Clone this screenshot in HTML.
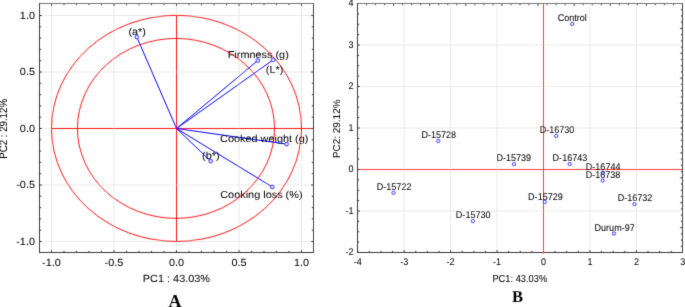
<!DOCTYPE html>
<html><head><meta charset="utf-8"><title>PCA plots</title>
<style>
html,body{margin:0;padding:0;background:#fff}
svg{display:block}
text{text-rendering:geometricPrecision}
text.s{font-family:"Liberation Sans",Arial,Helvetica,sans-serif;fill:#000;stroke:#000;stroke-width:0.04px}
text.b{font-family:"Liberation Serif","Times New Roman",Times,serif;font-weight:bold}
</style>
</head><body>
<svg width="685" height="307" viewBox="0 0 685 307">
<defs><filter id="soft" x="0" y="0" width="685" height="307" filterUnits="userSpaceOnUse"><feConvolveMatrix order="3" kernelMatrix="0.012 0.085 0.012 0.085 0.612 0.085 0.012 0.085 0.012" divisor="1" bias="0" edgeMode="duplicate" preserveAlpha="false"/></filter></defs>
<rect width="685" height="307" fill="#ffffff"/>
<g filter="url(#soft)">
<g id="plotA">
<line x1="51.50" y1="3.50" x2="51.50" y2="252.50" stroke="#e9e9e9" stroke-width="1"/>
<line x1="39.50" y1="241.50" x2="313.50" y2="241.50" stroke="#e9e9e9" stroke-width="1"/>
<line x1="114.00" y1="3.50" x2="114.00" y2="252.50" stroke="#e9e9e9" stroke-width="1"/>
<line x1="39.50" y1="185.00" x2="313.50" y2="185.00" stroke="#e9e9e9" stroke-width="1"/>
<line x1="176.50" y1="3.50" x2="176.50" y2="252.50" stroke="#e9e9e9" stroke-width="1"/>
<line x1="39.50" y1="128.50" x2="313.50" y2="128.50" stroke="#e9e9e9" stroke-width="1"/>
<line x1="239.00" y1="3.50" x2="239.00" y2="252.50" stroke="#e9e9e9" stroke-width="1"/>
<line x1="39.50" y1="72.00" x2="313.50" y2="72.00" stroke="#e9e9e9" stroke-width="1"/>
<line x1="301.50" y1="3.50" x2="301.50" y2="252.50" stroke="#e9e9e9" stroke-width="1"/>
<line x1="39.50" y1="15.50" x2="313.50" y2="15.50" stroke="#e9e9e9" stroke-width="1"/>
<ellipse cx="176.5" cy="128.4" rx="125" ry="113.05" fill="none" stroke="#ff1a1a" stroke-width="1"/>
<ellipse cx="176.0" cy="128.4" rx="98.55" ry="89.95" fill="none" stroke="#ff1a1a" stroke-width="1"/>
<line x1="51.50" y1="128.50" x2="313.50" y2="128.50" stroke="#ff1a1a" stroke-width="1"/>
<line x1="176.50" y1="15.50" x2="176.50" y2="241.50" stroke="#ff1a1a" stroke-width="1"/>
<line x1="51.50" y1="3.50" x2="51.50" y2="5.90" stroke="#3a3a3a" stroke-width="1"/>
<line x1="51.50" y1="252.50" x2="51.50" y2="250.10" stroke="#3a3a3a" stroke-width="1"/>
<line x1="39.50" y1="241.50" x2="41.90" y2="241.50" stroke="#3a3a3a" stroke-width="1"/>
<line x1="313.50" y1="241.50" x2="311.10" y2="241.50" stroke="#3a3a3a" stroke-width="1"/>
<line x1="64.00" y1="3.50" x2="64.00" y2="5.20" stroke="#3a3a3a" stroke-width="1"/>
<line x1="64.00" y1="252.50" x2="64.00" y2="250.80" stroke="#3a3a3a" stroke-width="1"/>
<line x1="39.50" y1="230.20" x2="41.20" y2="230.20" stroke="#3a3a3a" stroke-width="1"/>
<line x1="313.50" y1="230.20" x2="311.80" y2="230.20" stroke="#3a3a3a" stroke-width="1"/>
<line x1="76.50" y1="3.50" x2="76.50" y2="5.20" stroke="#3a3a3a" stroke-width="1"/>
<line x1="76.50" y1="252.50" x2="76.50" y2="250.80" stroke="#3a3a3a" stroke-width="1"/>
<line x1="39.50" y1="218.90" x2="41.20" y2="218.90" stroke="#3a3a3a" stroke-width="1"/>
<line x1="313.50" y1="218.90" x2="311.80" y2="218.90" stroke="#3a3a3a" stroke-width="1"/>
<line x1="89.00" y1="3.50" x2="89.00" y2="5.20" stroke="#3a3a3a" stroke-width="1"/>
<line x1="89.00" y1="252.50" x2="89.00" y2="250.80" stroke="#3a3a3a" stroke-width="1"/>
<line x1="39.50" y1="207.60" x2="41.20" y2="207.60" stroke="#3a3a3a" stroke-width="1"/>
<line x1="313.50" y1="207.60" x2="311.80" y2="207.60" stroke="#3a3a3a" stroke-width="1"/>
<line x1="101.50" y1="3.50" x2="101.50" y2="5.20" stroke="#3a3a3a" stroke-width="1"/>
<line x1="101.50" y1="252.50" x2="101.50" y2="250.80" stroke="#3a3a3a" stroke-width="1"/>
<line x1="39.50" y1="196.30" x2="41.20" y2="196.30" stroke="#3a3a3a" stroke-width="1"/>
<line x1="313.50" y1="196.30" x2="311.80" y2="196.30" stroke="#3a3a3a" stroke-width="1"/>
<line x1="114.00" y1="3.50" x2="114.00" y2="5.90" stroke="#3a3a3a" stroke-width="1"/>
<line x1="114.00" y1="252.50" x2="114.00" y2="250.10" stroke="#3a3a3a" stroke-width="1"/>
<line x1="39.50" y1="185.00" x2="41.90" y2="185.00" stroke="#3a3a3a" stroke-width="1"/>
<line x1="313.50" y1="185.00" x2="311.10" y2="185.00" stroke="#3a3a3a" stroke-width="1"/>
<line x1="126.50" y1="3.50" x2="126.50" y2="5.20" stroke="#3a3a3a" stroke-width="1"/>
<line x1="126.50" y1="252.50" x2="126.50" y2="250.80" stroke="#3a3a3a" stroke-width="1"/>
<line x1="39.50" y1="173.70" x2="41.20" y2="173.70" stroke="#3a3a3a" stroke-width="1"/>
<line x1="313.50" y1="173.70" x2="311.80" y2="173.70" stroke="#3a3a3a" stroke-width="1"/>
<line x1="139.00" y1="3.50" x2="139.00" y2="5.20" stroke="#3a3a3a" stroke-width="1"/>
<line x1="139.00" y1="252.50" x2="139.00" y2="250.80" stroke="#3a3a3a" stroke-width="1"/>
<line x1="39.50" y1="162.40" x2="41.20" y2="162.40" stroke="#3a3a3a" stroke-width="1"/>
<line x1="313.50" y1="162.40" x2="311.80" y2="162.40" stroke="#3a3a3a" stroke-width="1"/>
<line x1="151.50" y1="3.50" x2="151.50" y2="5.20" stroke="#3a3a3a" stroke-width="1"/>
<line x1="151.50" y1="252.50" x2="151.50" y2="250.80" stroke="#3a3a3a" stroke-width="1"/>
<line x1="39.50" y1="151.10" x2="41.20" y2="151.10" stroke="#3a3a3a" stroke-width="1"/>
<line x1="313.50" y1="151.10" x2="311.80" y2="151.10" stroke="#3a3a3a" stroke-width="1"/>
<line x1="164.00" y1="3.50" x2="164.00" y2="5.20" stroke="#3a3a3a" stroke-width="1"/>
<line x1="164.00" y1="252.50" x2="164.00" y2="250.80" stroke="#3a3a3a" stroke-width="1"/>
<line x1="39.50" y1="139.80" x2="41.20" y2="139.80" stroke="#3a3a3a" stroke-width="1"/>
<line x1="313.50" y1="139.80" x2="311.80" y2="139.80" stroke="#3a3a3a" stroke-width="1"/>
<line x1="176.50" y1="3.50" x2="176.50" y2="5.90" stroke="#3a3a3a" stroke-width="1"/>
<line x1="176.50" y1="252.50" x2="176.50" y2="250.10" stroke="#3a3a3a" stroke-width="1"/>
<line x1="39.50" y1="128.50" x2="41.90" y2="128.50" stroke="#3a3a3a" stroke-width="1"/>
<line x1="313.50" y1="128.50" x2="311.10" y2="128.50" stroke="#3a3a3a" stroke-width="1"/>
<line x1="189.00" y1="3.50" x2="189.00" y2="5.20" stroke="#3a3a3a" stroke-width="1"/>
<line x1="189.00" y1="252.50" x2="189.00" y2="250.80" stroke="#3a3a3a" stroke-width="1"/>
<line x1="39.50" y1="117.20" x2="41.20" y2="117.20" stroke="#3a3a3a" stroke-width="1"/>
<line x1="313.50" y1="117.20" x2="311.80" y2="117.20" stroke="#3a3a3a" stroke-width="1"/>
<line x1="201.50" y1="3.50" x2="201.50" y2="5.20" stroke="#3a3a3a" stroke-width="1"/>
<line x1="201.50" y1="252.50" x2="201.50" y2="250.80" stroke="#3a3a3a" stroke-width="1"/>
<line x1="39.50" y1="105.90" x2="41.20" y2="105.90" stroke="#3a3a3a" stroke-width="1"/>
<line x1="313.50" y1="105.90" x2="311.80" y2="105.90" stroke="#3a3a3a" stroke-width="1"/>
<line x1="214.00" y1="3.50" x2="214.00" y2="5.20" stroke="#3a3a3a" stroke-width="1"/>
<line x1="214.00" y1="252.50" x2="214.00" y2="250.80" stroke="#3a3a3a" stroke-width="1"/>
<line x1="39.50" y1="94.60" x2="41.20" y2="94.60" stroke="#3a3a3a" stroke-width="1"/>
<line x1="313.50" y1="94.60" x2="311.80" y2="94.60" stroke="#3a3a3a" stroke-width="1"/>
<line x1="226.50" y1="3.50" x2="226.50" y2="5.20" stroke="#3a3a3a" stroke-width="1"/>
<line x1="226.50" y1="252.50" x2="226.50" y2="250.80" stroke="#3a3a3a" stroke-width="1"/>
<line x1="39.50" y1="83.30" x2="41.20" y2="83.30" stroke="#3a3a3a" stroke-width="1"/>
<line x1="313.50" y1="83.30" x2="311.80" y2="83.30" stroke="#3a3a3a" stroke-width="1"/>
<line x1="239.00" y1="3.50" x2="239.00" y2="5.90" stroke="#3a3a3a" stroke-width="1"/>
<line x1="239.00" y1="252.50" x2="239.00" y2="250.10" stroke="#3a3a3a" stroke-width="1"/>
<line x1="39.50" y1="72.00" x2="41.90" y2="72.00" stroke="#3a3a3a" stroke-width="1"/>
<line x1="313.50" y1="72.00" x2="311.10" y2="72.00" stroke="#3a3a3a" stroke-width="1"/>
<line x1="251.50" y1="3.50" x2="251.50" y2="5.20" stroke="#3a3a3a" stroke-width="1"/>
<line x1="251.50" y1="252.50" x2="251.50" y2="250.80" stroke="#3a3a3a" stroke-width="1"/>
<line x1="39.50" y1="60.70" x2="41.20" y2="60.70" stroke="#3a3a3a" stroke-width="1"/>
<line x1="313.50" y1="60.70" x2="311.80" y2="60.70" stroke="#3a3a3a" stroke-width="1"/>
<line x1="264.00" y1="3.50" x2="264.00" y2="5.20" stroke="#3a3a3a" stroke-width="1"/>
<line x1="264.00" y1="252.50" x2="264.00" y2="250.80" stroke="#3a3a3a" stroke-width="1"/>
<line x1="39.50" y1="49.40" x2="41.20" y2="49.40" stroke="#3a3a3a" stroke-width="1"/>
<line x1="313.50" y1="49.40" x2="311.80" y2="49.40" stroke="#3a3a3a" stroke-width="1"/>
<line x1="276.50" y1="3.50" x2="276.50" y2="5.20" stroke="#3a3a3a" stroke-width="1"/>
<line x1="276.50" y1="252.50" x2="276.50" y2="250.80" stroke="#3a3a3a" stroke-width="1"/>
<line x1="39.50" y1="38.10" x2="41.20" y2="38.10" stroke="#3a3a3a" stroke-width="1"/>
<line x1="313.50" y1="38.10" x2="311.80" y2="38.10" stroke="#3a3a3a" stroke-width="1"/>
<line x1="289.00" y1="3.50" x2="289.00" y2="5.20" stroke="#3a3a3a" stroke-width="1"/>
<line x1="289.00" y1="252.50" x2="289.00" y2="250.80" stroke="#3a3a3a" stroke-width="1"/>
<line x1="39.50" y1="26.80" x2="41.20" y2="26.80" stroke="#3a3a3a" stroke-width="1"/>
<line x1="313.50" y1="26.80" x2="311.80" y2="26.80" stroke="#3a3a3a" stroke-width="1"/>
<line x1="301.50" y1="3.50" x2="301.50" y2="5.90" stroke="#3a3a3a" stroke-width="1"/>
<line x1="301.50" y1="252.50" x2="301.50" y2="250.10" stroke="#3a3a3a" stroke-width="1"/>
<line x1="39.50" y1="15.50" x2="41.90" y2="15.50" stroke="#3a3a3a" stroke-width="1"/>
<line x1="313.50" y1="15.50" x2="311.10" y2="15.50" stroke="#3a3a3a" stroke-width="1"/>
<line x1="39.00" y1="3.50" x2="314.00" y2="3.50" stroke="#787878" stroke-width="1"/>
<line x1="313.50" y1="3.50" x2="313.50" y2="253.00" stroke="#444444" stroke-width="1"/>
<line x1="39.50" y1="3.00" x2="39.50" y2="253.00" stroke="#3a3a3a" stroke-width="1"/>
<line x1="39.00" y1="252.50" x2="314.00" y2="252.50" stroke="#3a3a3a" stroke-width="1"/>
<line x1="176.50" y1="128.50" x2="136.80" y2="37.00" stroke="#0808ff" stroke-width="1.0"/>
<line x1="176.50" y1="128.50" x2="257.80" y2="60.50" stroke="#0808ff" stroke-width="1.0"/>
<line x1="176.50" y1="128.50" x2="273.20" y2="59.80" stroke="#0808ff" stroke-width="1.0"/>
<line x1="176.50" y1="128.50" x2="286.60" y2="144.10" stroke="#0808ff" stroke-width="1.0"/>
<line x1="176.50" y1="128.50" x2="210.70" y2="161.10" stroke="#0808ff" stroke-width="1.0"/>
<line x1="176.50" y1="128.50" x2="272.30" y2="187.00" stroke="#0808ff" stroke-width="1.0"/>
<circle cx="136.8" cy="37.0" r="1.85" fill="#dde0ff" stroke="#0808ff" stroke-width="0.9"/>
<circle cx="257.8" cy="60.5" r="1.85" fill="#dde0ff" stroke="#0808ff" stroke-width="0.9"/>
<circle cx="273.2" cy="59.8" r="1.85" fill="#dde0ff" stroke="#0808ff" stroke-width="0.9"/>
<circle cx="286.6" cy="144.1" r="1.85" fill="#dde0ff" stroke="#0808ff" stroke-width="0.9"/>
<circle cx="210.7" cy="161.1" r="1.85" fill="#dde0ff" stroke="#0808ff" stroke-width="0.9"/>
<circle cx="272.3" cy="187.0" r="1.85" fill="#dde0ff" stroke="#0808ff" stroke-width="0.9"/>
<text class="s" transform="translate(137.20,34.70) scale(1.000,0.920)" font-size="10.9" text-anchor="middle">(a*)</text>
<text class="s" transform="translate(258.25,57.80) scale(1.000,0.920)" font-size="10.9" text-anchor="middle">Firmness (g)</text>
<text class="s" transform="translate(274.60,72.80) scale(1.000,0.920)" font-size="10.9" text-anchor="middle">(L*)</text>
<text class="s" transform="translate(264.20,142.10) scale(1.000,0.920)" font-size="10.9" text-anchor="middle">Cooked weight (g)</text>
<text class="s" transform="translate(210.90,159.00) scale(1.000,0.920)" font-size="10.9" text-anchor="middle">(b*)</text>
<text class="s" transform="translate(261.40,198.20) scale(1.000,0.920)" font-size="10.9" text-anchor="middle">Cooking loss (%)</text>
<text class="s" transform="translate(51.50,266.00) scale(1.000,0.950)" font-size="10.9" text-anchor="middle">-1.0</text>
<text class="s" transform="translate(35.00,244.90) scale(1.000,0.950)" font-size="10.9" text-anchor="end">-1.0</text>
<text class="s" transform="translate(114.00,266.00) scale(1.000,0.950)" font-size="10.9" text-anchor="middle">-0.5</text>
<text class="s" transform="translate(35.00,188.40) scale(1.000,0.950)" font-size="10.9" text-anchor="end">-0.5</text>
<text class="s" transform="translate(176.50,266.00) scale(1.000,0.950)" font-size="10.9" text-anchor="middle">0.0</text>
<text class="s" transform="translate(35.00,131.90) scale(1.000,0.950)" font-size="10.9" text-anchor="end">0.0</text>
<text class="s" transform="translate(239.00,266.00) scale(1.000,0.950)" font-size="10.9" text-anchor="middle">0.5</text>
<text class="s" transform="translate(35.00,75.40) scale(1.000,0.950)" font-size="10.9" text-anchor="end">0.5</text>
<text class="s" transform="translate(301.50,266.00) scale(1.000,0.950)" font-size="10.9" text-anchor="middle">1.0</text>
<text class="s" transform="translate(35.00,18.90) scale(1.000,0.950)" font-size="10.9" text-anchor="end">1.0</text>
<text class="s" transform="translate(176.40,282.10) scale(1.000,0.950)" font-size="10.9" text-anchor="middle">PC1 : 43.03%</text>
<text class="s" transform="translate(7.40,128.90) rotate(-90) scale(0.890,1.000)" font-size="10.9" text-anchor="middle">PC2 : 29.12%</text>
<text class="b" transform="translate(175.10,307.25)" font-size="18" text-anchor="middle" fill="#000">A</text>
</g>
<g id="plotB">
<line x1="404.15" y1="3.50" x2="404.15" y2="252.50" stroke="#e9e9e9" stroke-width="1"/>
<line x1="450.60" y1="3.50" x2="450.60" y2="252.50" stroke="#e9e9e9" stroke-width="1"/>
<line x1="497.05" y1="3.50" x2="497.05" y2="252.50" stroke="#e9e9e9" stroke-width="1"/>
<line x1="589.95" y1="3.50" x2="589.95" y2="252.50" stroke="#e9e9e9" stroke-width="1"/>
<line x1="636.40" y1="3.50" x2="636.40" y2="252.50" stroke="#e9e9e9" stroke-width="1"/>
<line x1="357.50" y1="45.00" x2="682.50" y2="45.00" stroke="#e9e9e9" stroke-width="1"/>
<line x1="357.50" y1="86.50" x2="682.50" y2="86.50" stroke="#e9e9e9" stroke-width="1"/>
<line x1="357.50" y1="128.00" x2="682.50" y2="128.00" stroke="#e9e9e9" stroke-width="1"/>
<line x1="357.50" y1="211.00" x2="682.50" y2="211.00" stroke="#e9e9e9" stroke-width="1"/>
<line x1="543.50" y1="3.50" x2="543.50" y2="252.50" stroke="#ff4040" stroke-width="1"/>
<line x1="357.50" y1="169.50" x2="682.50" y2="169.50" stroke="#ff4040" stroke-width="1"/>
<line x1="357.70" y1="252.50" x2="357.70" y2="250.10" stroke="#3a3a3a" stroke-width="1"/>
<line x1="369.31" y1="252.50" x2="369.31" y2="250.80" stroke="#3a3a3a" stroke-width="1"/>
<line x1="380.92" y1="252.50" x2="380.92" y2="250.80" stroke="#3a3a3a" stroke-width="1"/>
<line x1="392.54" y1="252.50" x2="392.54" y2="250.80" stroke="#3a3a3a" stroke-width="1"/>
<line x1="404.15" y1="252.50" x2="404.15" y2="250.10" stroke="#3a3a3a" stroke-width="1"/>
<line x1="415.76" y1="252.50" x2="415.76" y2="250.80" stroke="#3a3a3a" stroke-width="1"/>
<line x1="427.38" y1="252.50" x2="427.38" y2="250.80" stroke="#3a3a3a" stroke-width="1"/>
<line x1="438.99" y1="252.50" x2="438.99" y2="250.80" stroke="#3a3a3a" stroke-width="1"/>
<line x1="450.60" y1="252.50" x2="450.60" y2="250.10" stroke="#3a3a3a" stroke-width="1"/>
<line x1="462.21" y1="252.50" x2="462.21" y2="250.80" stroke="#3a3a3a" stroke-width="1"/>
<line x1="473.82" y1="252.50" x2="473.82" y2="250.80" stroke="#3a3a3a" stroke-width="1"/>
<line x1="485.44" y1="252.50" x2="485.44" y2="250.80" stroke="#3a3a3a" stroke-width="1"/>
<line x1="497.05" y1="252.50" x2="497.05" y2="250.10" stroke="#3a3a3a" stroke-width="1"/>
<line x1="508.66" y1="252.50" x2="508.66" y2="250.80" stroke="#3a3a3a" stroke-width="1"/>
<line x1="520.27" y1="252.50" x2="520.27" y2="250.80" stroke="#3a3a3a" stroke-width="1"/>
<line x1="531.89" y1="252.50" x2="531.89" y2="250.80" stroke="#3a3a3a" stroke-width="1"/>
<line x1="543.50" y1="252.50" x2="543.50" y2="250.10" stroke="#3a3a3a" stroke-width="1"/>
<line x1="555.11" y1="252.50" x2="555.11" y2="250.80" stroke="#3a3a3a" stroke-width="1"/>
<line x1="566.73" y1="252.50" x2="566.73" y2="250.80" stroke="#3a3a3a" stroke-width="1"/>
<line x1="578.34" y1="252.50" x2="578.34" y2="250.80" stroke="#3a3a3a" stroke-width="1"/>
<line x1="589.95" y1="252.50" x2="589.95" y2="250.10" stroke="#3a3a3a" stroke-width="1"/>
<line x1="601.56" y1="252.50" x2="601.56" y2="250.80" stroke="#3a3a3a" stroke-width="1"/>
<line x1="613.17" y1="252.50" x2="613.17" y2="250.80" stroke="#3a3a3a" stroke-width="1"/>
<line x1="624.79" y1="252.50" x2="624.79" y2="250.80" stroke="#3a3a3a" stroke-width="1"/>
<line x1="636.40" y1="252.50" x2="636.40" y2="250.10" stroke="#3a3a3a" stroke-width="1"/>
<line x1="648.01" y1="252.50" x2="648.01" y2="250.80" stroke="#3a3a3a" stroke-width="1"/>
<line x1="659.62" y1="252.50" x2="659.62" y2="250.80" stroke="#3a3a3a" stroke-width="1"/>
<line x1="671.24" y1="252.50" x2="671.24" y2="250.80" stroke="#3a3a3a" stroke-width="1"/>
<line x1="357.50" y1="3.50" x2="357.50" y2="5.90" stroke="#3a3a3a" stroke-width="1"/>
<line x1="366.53" y1="3.50" x2="366.53" y2="5.20" stroke="#3a3a3a" stroke-width="1"/>
<line x1="375.56" y1="3.50" x2="375.56" y2="5.20" stroke="#3a3a3a" stroke-width="1"/>
<line x1="384.58" y1="3.50" x2="384.58" y2="5.20" stroke="#3a3a3a" stroke-width="1"/>
<line x1="393.61" y1="3.50" x2="393.61" y2="5.90" stroke="#3a3a3a" stroke-width="1"/>
<line x1="402.64" y1="3.50" x2="402.64" y2="5.20" stroke="#3a3a3a" stroke-width="1"/>
<line x1="411.67" y1="3.50" x2="411.67" y2="5.20" stroke="#3a3a3a" stroke-width="1"/>
<line x1="420.69" y1="3.50" x2="420.69" y2="5.20" stroke="#3a3a3a" stroke-width="1"/>
<line x1="429.72" y1="3.50" x2="429.72" y2="5.90" stroke="#3a3a3a" stroke-width="1"/>
<line x1="438.75" y1="3.50" x2="438.75" y2="5.20" stroke="#3a3a3a" stroke-width="1"/>
<line x1="447.78" y1="3.50" x2="447.78" y2="5.20" stroke="#3a3a3a" stroke-width="1"/>
<line x1="456.81" y1="3.50" x2="456.81" y2="5.20" stroke="#3a3a3a" stroke-width="1"/>
<line x1="465.83" y1="3.50" x2="465.83" y2="5.90" stroke="#3a3a3a" stroke-width="1"/>
<line x1="474.86" y1="3.50" x2="474.86" y2="5.20" stroke="#3a3a3a" stroke-width="1"/>
<line x1="483.89" y1="3.50" x2="483.89" y2="5.20" stroke="#3a3a3a" stroke-width="1"/>
<line x1="492.92" y1="3.50" x2="492.92" y2="5.20" stroke="#3a3a3a" stroke-width="1"/>
<line x1="501.94" y1="3.50" x2="501.94" y2="5.90" stroke="#3a3a3a" stroke-width="1"/>
<line x1="510.97" y1="3.50" x2="510.97" y2="5.20" stroke="#3a3a3a" stroke-width="1"/>
<line x1="520.00" y1="3.50" x2="520.00" y2="5.20" stroke="#3a3a3a" stroke-width="1"/>
<line x1="529.03" y1="3.50" x2="529.03" y2="5.20" stroke="#3a3a3a" stroke-width="1"/>
<line x1="538.06" y1="3.50" x2="538.06" y2="5.90" stroke="#3a3a3a" stroke-width="1"/>
<line x1="547.08" y1="3.50" x2="547.08" y2="5.20" stroke="#3a3a3a" stroke-width="1"/>
<line x1="556.11" y1="3.50" x2="556.11" y2="5.20" stroke="#3a3a3a" stroke-width="1"/>
<line x1="565.14" y1="3.50" x2="565.14" y2="5.20" stroke="#3a3a3a" stroke-width="1"/>
<line x1="574.17" y1="3.50" x2="574.17" y2="5.90" stroke="#3a3a3a" stroke-width="1"/>
<line x1="583.19" y1="3.50" x2="583.19" y2="5.20" stroke="#3a3a3a" stroke-width="1"/>
<line x1="592.22" y1="3.50" x2="592.22" y2="5.20" stroke="#3a3a3a" stroke-width="1"/>
<line x1="601.25" y1="3.50" x2="601.25" y2="5.20" stroke="#3a3a3a" stroke-width="1"/>
<line x1="610.28" y1="3.50" x2="610.28" y2="5.90" stroke="#3a3a3a" stroke-width="1"/>
<line x1="619.31" y1="3.50" x2="619.31" y2="5.20" stroke="#3a3a3a" stroke-width="1"/>
<line x1="628.33" y1="3.50" x2="628.33" y2="5.20" stroke="#3a3a3a" stroke-width="1"/>
<line x1="637.36" y1="3.50" x2="637.36" y2="5.20" stroke="#3a3a3a" stroke-width="1"/>
<line x1="646.39" y1="3.50" x2="646.39" y2="5.90" stroke="#3a3a3a" stroke-width="1"/>
<line x1="655.42" y1="3.50" x2="655.42" y2="5.20" stroke="#3a3a3a" stroke-width="1"/>
<line x1="664.44" y1="3.50" x2="664.44" y2="5.20" stroke="#3a3a3a" stroke-width="1"/>
<line x1="673.47" y1="3.50" x2="673.47" y2="5.20" stroke="#3a3a3a" stroke-width="1"/>
<line x1="682.50" y1="3.50" x2="682.50" y2="5.90" stroke="#3a3a3a" stroke-width="1"/>
<line x1="357.50" y1="252.50" x2="359.90" y2="252.50" stroke="#3a3a3a" stroke-width="1"/>
<line x1="357.50" y1="242.12" x2="359.20" y2="242.12" stroke="#3a3a3a" stroke-width="1"/>
<line x1="357.50" y1="231.75" x2="359.20" y2="231.75" stroke="#3a3a3a" stroke-width="1"/>
<line x1="357.50" y1="221.38" x2="359.20" y2="221.38" stroke="#3a3a3a" stroke-width="1"/>
<line x1="357.50" y1="211.00" x2="359.90" y2="211.00" stroke="#3a3a3a" stroke-width="1"/>
<line x1="357.50" y1="200.62" x2="359.20" y2="200.62" stroke="#3a3a3a" stroke-width="1"/>
<line x1="357.50" y1="190.25" x2="359.20" y2="190.25" stroke="#3a3a3a" stroke-width="1"/>
<line x1="357.50" y1="179.88" x2="359.20" y2="179.88" stroke="#3a3a3a" stroke-width="1"/>
<line x1="357.50" y1="169.50" x2="359.90" y2="169.50" stroke="#3a3a3a" stroke-width="1"/>
<line x1="357.50" y1="159.12" x2="359.20" y2="159.12" stroke="#3a3a3a" stroke-width="1"/>
<line x1="357.50" y1="148.75" x2="359.20" y2="148.75" stroke="#3a3a3a" stroke-width="1"/>
<line x1="357.50" y1="138.38" x2="359.20" y2="138.38" stroke="#3a3a3a" stroke-width="1"/>
<line x1="357.50" y1="128.00" x2="359.90" y2="128.00" stroke="#3a3a3a" stroke-width="1"/>
<line x1="357.50" y1="117.62" x2="359.20" y2="117.62" stroke="#3a3a3a" stroke-width="1"/>
<line x1="357.50" y1="107.25" x2="359.20" y2="107.25" stroke="#3a3a3a" stroke-width="1"/>
<line x1="357.50" y1="96.88" x2="359.20" y2="96.88" stroke="#3a3a3a" stroke-width="1"/>
<line x1="357.50" y1="86.50" x2="359.90" y2="86.50" stroke="#3a3a3a" stroke-width="1"/>
<line x1="357.50" y1="76.12" x2="359.20" y2="76.12" stroke="#3a3a3a" stroke-width="1"/>
<line x1="357.50" y1="65.75" x2="359.20" y2="65.75" stroke="#3a3a3a" stroke-width="1"/>
<line x1="357.50" y1="55.38" x2="359.20" y2="55.38" stroke="#3a3a3a" stroke-width="1"/>
<line x1="357.50" y1="45.00" x2="359.90" y2="45.00" stroke="#3a3a3a" stroke-width="1"/>
<line x1="357.50" y1="34.62" x2="359.20" y2="34.62" stroke="#3a3a3a" stroke-width="1"/>
<line x1="357.50" y1="24.25" x2="359.20" y2="24.25" stroke="#3a3a3a" stroke-width="1"/>
<line x1="357.50" y1="13.88" x2="359.20" y2="13.88" stroke="#3a3a3a" stroke-width="1"/>
<line x1="357.50" y1="3.50" x2="359.90" y2="3.50" stroke="#3a3a3a" stroke-width="1"/>
<line x1="682.50" y1="3.50" x2="680.10" y2="3.50" stroke="#3a3a3a" stroke-width="1"/>
<line x1="682.50" y1="9.72" x2="680.80" y2="9.72" stroke="#3a3a3a" stroke-width="1"/>
<line x1="682.50" y1="15.95" x2="680.80" y2="15.95" stroke="#3a3a3a" stroke-width="1"/>
<line x1="682.50" y1="22.18" x2="680.80" y2="22.18" stroke="#3a3a3a" stroke-width="1"/>
<line x1="682.50" y1="28.40" x2="680.10" y2="28.40" stroke="#3a3a3a" stroke-width="1"/>
<line x1="682.50" y1="34.62" x2="680.80" y2="34.62" stroke="#3a3a3a" stroke-width="1"/>
<line x1="682.50" y1="40.85" x2="680.80" y2="40.85" stroke="#3a3a3a" stroke-width="1"/>
<line x1="682.50" y1="47.08" x2="680.80" y2="47.08" stroke="#3a3a3a" stroke-width="1"/>
<line x1="682.50" y1="53.30" x2="680.10" y2="53.30" stroke="#3a3a3a" stroke-width="1"/>
<line x1="682.50" y1="59.52" x2="680.80" y2="59.52" stroke="#3a3a3a" stroke-width="1"/>
<line x1="682.50" y1="65.75" x2="680.80" y2="65.75" stroke="#3a3a3a" stroke-width="1"/>
<line x1="682.50" y1="71.97" x2="680.80" y2="71.97" stroke="#3a3a3a" stroke-width="1"/>
<line x1="682.50" y1="78.20" x2="680.10" y2="78.20" stroke="#3a3a3a" stroke-width="1"/>
<line x1="682.50" y1="84.42" x2="680.80" y2="84.42" stroke="#3a3a3a" stroke-width="1"/>
<line x1="682.50" y1="90.65" x2="680.80" y2="90.65" stroke="#3a3a3a" stroke-width="1"/>
<line x1="682.50" y1="96.88" x2="680.80" y2="96.88" stroke="#3a3a3a" stroke-width="1"/>
<line x1="682.50" y1="103.10" x2="680.10" y2="103.10" stroke="#3a3a3a" stroke-width="1"/>
<line x1="682.50" y1="109.33" x2="680.80" y2="109.33" stroke="#3a3a3a" stroke-width="1"/>
<line x1="682.50" y1="115.55" x2="680.80" y2="115.55" stroke="#3a3a3a" stroke-width="1"/>
<line x1="682.50" y1="121.78" x2="680.80" y2="121.78" stroke="#3a3a3a" stroke-width="1"/>
<line x1="682.50" y1="128.00" x2="680.10" y2="128.00" stroke="#3a3a3a" stroke-width="1"/>
<line x1="682.50" y1="134.22" x2="680.80" y2="134.22" stroke="#3a3a3a" stroke-width="1"/>
<line x1="682.50" y1="140.45" x2="680.80" y2="140.45" stroke="#3a3a3a" stroke-width="1"/>
<line x1="682.50" y1="146.68" x2="680.80" y2="146.68" stroke="#3a3a3a" stroke-width="1"/>
<line x1="682.50" y1="152.90" x2="680.10" y2="152.90" stroke="#3a3a3a" stroke-width="1"/>
<line x1="682.50" y1="159.12" x2="680.80" y2="159.12" stroke="#3a3a3a" stroke-width="1"/>
<line x1="682.50" y1="165.35" x2="680.80" y2="165.35" stroke="#3a3a3a" stroke-width="1"/>
<line x1="682.50" y1="171.57" x2="680.80" y2="171.57" stroke="#3a3a3a" stroke-width="1"/>
<line x1="682.50" y1="177.80" x2="680.10" y2="177.80" stroke="#3a3a3a" stroke-width="1"/>
<line x1="682.50" y1="184.03" x2="680.80" y2="184.03" stroke="#3a3a3a" stroke-width="1"/>
<line x1="682.50" y1="190.25" x2="680.80" y2="190.25" stroke="#3a3a3a" stroke-width="1"/>
<line x1="682.50" y1="196.47" x2="680.80" y2="196.47" stroke="#3a3a3a" stroke-width="1"/>
<line x1="682.50" y1="202.70" x2="680.10" y2="202.70" stroke="#3a3a3a" stroke-width="1"/>
<line x1="682.50" y1="208.93" x2="680.80" y2="208.93" stroke="#3a3a3a" stroke-width="1"/>
<line x1="682.50" y1="215.15" x2="680.80" y2="215.15" stroke="#3a3a3a" stroke-width="1"/>
<line x1="682.50" y1="221.38" x2="680.80" y2="221.38" stroke="#3a3a3a" stroke-width="1"/>
<line x1="682.50" y1="227.60" x2="680.10" y2="227.60" stroke="#3a3a3a" stroke-width="1"/>
<line x1="682.50" y1="233.82" x2="680.80" y2="233.82" stroke="#3a3a3a" stroke-width="1"/>
<line x1="682.50" y1="240.05" x2="680.80" y2="240.05" stroke="#3a3a3a" stroke-width="1"/>
<line x1="682.50" y1="246.28" x2="680.80" y2="246.28" stroke="#3a3a3a" stroke-width="1"/>
<line x1="682.50" y1="252.50" x2="680.10" y2="252.50" stroke="#3a3a3a" stroke-width="1"/>
<line x1="357.00" y1="3.50" x2="683.00" y2="3.50" stroke="#787878" stroke-width="1"/>
<line x1="682.50" y1="3.50" x2="682.50" y2="253.00" stroke="#444444" stroke-width="1"/>
<line x1="357.50" y1="3.00" x2="357.50" y2="253.00" stroke="#3a3a3a" stroke-width="1"/>
<line x1="357.00" y1="252.50" x2="683.00" y2="252.50" stroke="#3a3a3a" stroke-width="1"/>
<line x1="543.50" y1="249.50" x2="543.50" y2="253.70" stroke="#ff4040" stroke-width="1"/>
<circle cx="572.2" cy="23.9" r="1.65" fill="#f0f2ff" stroke="#0808ff" stroke-width="0.85"/>
<circle cx="438.3" cy="141.0" r="1.65" fill="#f0f2ff" stroke="#0808ff" stroke-width="0.85"/>
<circle cx="556.2" cy="135.9" r="1.65" fill="#f0f2ff" stroke="#0808ff" stroke-width="0.85"/>
<circle cx="514.0" cy="164.2" r="1.65" fill="#f0f2ff" stroke="#0808ff" stroke-width="0.85"/>
<circle cx="569.7" cy="164.0" r="1.65" fill="#f0f2ff" stroke="#0808ff" stroke-width="0.85"/>
<circle cx="602.9" cy="172.8" r="1.65" fill="#f0f2ff" stroke="#0808ff" stroke-width="0.85"/>
<circle cx="602.7" cy="180.5" r="1.65" fill="#f0f2ff" stroke="#0808ff" stroke-width="0.85"/>
<circle cx="393.5" cy="192.8" r="1.65" fill="#f0f2ff" stroke="#0808ff" stroke-width="0.85"/>
<circle cx="544.8" cy="201.9" r="1.65" fill="#f0f2ff" stroke="#0808ff" stroke-width="0.85"/>
<circle cx="634.5" cy="204.1" r="1.65" fill="#f0f2ff" stroke="#0808ff" stroke-width="0.85"/>
<circle cx="472.9" cy="221.1" r="1.65" fill="#f0f2ff" stroke="#0808ff" stroke-width="0.85"/>
<circle cx="614.0" cy="233.5" r="1.65" fill="#f0f2ff" stroke="#0808ff" stroke-width="0.85"/>
<text class="s" transform="translate(572.25,21.45) scale(1.000,1.080)" font-size="9.05" text-anchor="middle">Control</text>
<text class="s" transform="translate(438.75,138.45) scale(1.000,1.080)" font-size="9.05" text-anchor="middle">D-15728</text>
<text class="s" transform="translate(557.05,133.25) scale(1.000,1.080)" font-size="9.05" text-anchor="middle">D-16730</text>
<text class="s" transform="translate(513.80,161.45) scale(1.000,1.080)" font-size="9.05" text-anchor="middle">D-15739</text>
<text class="s" transform="translate(569.95,161.45) scale(1.000,1.080)" font-size="9.05" text-anchor="middle">D-16743</text>
<text class="s" transform="translate(603.15,169.95) scale(1.000,1.080)" font-size="9.05" text-anchor="middle">D-16744</text>
<text class="s" transform="translate(603.00,178.05) scale(1.000,1.080)" font-size="9.05" text-anchor="middle">D-16738</text>
<text class="s" transform="translate(394.10,189.85) scale(1.000,1.080)" font-size="9.05" text-anchor="middle">D-15722</text>
<text class="s" transform="translate(545.45,199.85) scale(1.000,1.080)" font-size="9.05" text-anchor="middle">D-15729</text>
<text class="s" transform="translate(635.00,201.35) scale(1.000,1.080)" font-size="9.05" text-anchor="middle">D-16732</text>
<text class="s" transform="translate(473.20,218.25) scale(1.000,1.080)" font-size="9.05" text-anchor="middle">D-15730</text>
<text class="s" transform="translate(614.65,230.95) scale(1.000,1.080)" font-size="9.05" text-anchor="middle">Durum-97</text>
<text class="s" transform="translate(357.70,265.40) scale(1.000,1.080)" font-size="9.05" text-anchor="middle">-4</text>
<text class="s" transform="translate(404.15,265.40) scale(1.000,1.080)" font-size="9.05" text-anchor="middle">-3</text>
<text class="s" transform="translate(450.60,265.40) scale(1.000,1.080)" font-size="9.05" text-anchor="middle">-2</text>
<text class="s" transform="translate(497.05,265.40) scale(1.000,1.080)" font-size="9.05" text-anchor="middle">-1</text>
<text class="s" transform="translate(543.50,265.40) scale(1.000,1.080)" font-size="9.05" text-anchor="middle">0</text>
<text class="s" transform="translate(589.95,265.40) scale(1.000,1.080)" font-size="9.05" text-anchor="middle">1</text>
<text class="s" transform="translate(636.40,265.40) scale(1.000,1.080)" font-size="9.05" text-anchor="middle">2</text>
<text class="s" transform="translate(682.85,265.40) scale(1.000,1.080)" font-size="9.05" text-anchor="middle">3</text>
<text class="s" transform="translate(353.60,255.40) scale(1.000,1.080)" font-size="9.05" text-anchor="end">-2</text>
<text class="s" transform="translate(353.60,213.90) scale(1.000,1.080)" font-size="9.05" text-anchor="end">-1</text>
<text class="s" transform="translate(353.60,172.40) scale(1.000,1.080)" font-size="9.05" text-anchor="end">0</text>
<text class="s" transform="translate(353.60,130.90) scale(1.000,1.080)" font-size="9.05" text-anchor="end">1</text>
<text class="s" transform="translate(353.60,89.40) scale(1.000,1.080)" font-size="9.05" text-anchor="end">2</text>
<text class="s" transform="translate(353.60,47.90) scale(1.000,1.080)" font-size="9.05" text-anchor="end">3</text>
<text class="s" transform="translate(353.60,6.40) scale(1.000,1.080)" font-size="9.05" text-anchor="end">4</text>
<text class="s" transform="translate(519.80,281.90) scale(1.000,1.090)" font-size="9.3" text-anchor="middle">PC1: 43.03%</text>
<text class="s" transform="translate(339.60,128.80) rotate(-90) scale(1.070,1.080)" font-size="9.3" text-anchor="middle">PC2: 29.12%</text>
<text class="b" transform="translate(517.40,302.00)" font-size="16.5" text-anchor="middle" fill="#000">B</text>
</g>
</g>
</svg>
</body></html>
